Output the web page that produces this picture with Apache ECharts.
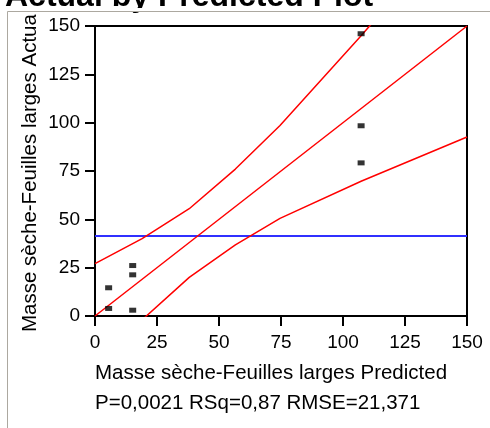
<!DOCTYPE html>
<html>
<head>
<meta charset="utf-8">
<script src="https://cdn.jsdelivr.net/npm/echarts@6/dist/echarts.min.js"></script>
<style>
html,body{margin:0;padding:0;background:#fff;}
#chart{width:490px;height:428px;}
</style>
</head>
<body>
<div id="chart"></div>
<script>
var titleText = 'Actual by Predicted Plot';
var yAxisTitle = 'Masse sèche-Feuilles larges Actual';
var xAxisTitle = 'Masse sèche-Feuilles larges Predicted';
var statsText = 'P=0,0021 RSq=0,87 RMSE=21,371';
var xTicks = [0, 25, 50, 75, 100, 125, 150];
var yTicks = [0, 25, 50, 75, 100, 125, 150];

var predicted = [107.3, 107.3, 107.3, 5.5, 5.5, 15.2, 15.2, 15.2];
var actual    = [146.0, 98.4, 79.2, 14.6, 3.9, 26.1, 21.3, 3.0];

var fitX   = [0, 150];
var fitY   = [0, 150];
var upperX = [0, 19, 38, 56.6, 74.6, 107.3, 150];
var upperY = [27.1, 40.0, 55.5, 76.0, 98.5, 145.0, 207.4];
var lowerX = [0, 19, 38, 56.6, 74.6, 107.3, 150];
var lowerY = [-27.1, -2.0, 20.0, 36.8, 50.5, 69.7, 92.6];
var meanY = 41.4;

function pairs(xs, ys){ return xs.map(function(x,i){ return [x, ys[i]]; }); }

var FONT = "'Liberation Sans', Arial, sans-serif";
var chart = echarts.init(document.getElementById('chart'), null, {renderer:'canvas'});
chart.setOption({
  animation: false,
  backgroundColor: '#fff',
  grid: {left: 95, right: 23, top: 26, bottom: 112, show: true, borderColor: '#000', borderWidth: 2, backgroundColor: 'transparent'},
  xAxis: {
    type: 'value', min: xTicks[0], max: xTicks[xTicks.length-1], interval: 25,
    axisLine: {show: true, onZero: false, lineStyle: {color: '#000', width: 2}},
    axisTick: {show: true, length: 10, lineStyle: {color: '#000', width: 2}},
    axisLabel: {color: '#000', fontSize: 19, fontFamily: FONT, margin: 17,
      formatter: function(v){ return xTicks.indexOf(v) >= 0 ? String(v) : ''; }},
    splitLine: {show: false}
  },
  yAxis: {
    type: 'value', min: yTicks[0], max: yTicks[yTicks.length-1], interval: 25,
    axisLine: {show: true, onZero: false, lineStyle: {color: '#000', width: 2}},
    axisTick: {show: true, length: 10, lineStyle: {color: '#000', width: 2}},
    axisLabel: {color: '#000', fontSize: 19, fontFamily: FONT, margin: 15,
      formatter: function(v){ return yTicks.indexOf(v) >= 0 ? String(v) : ''; }},
    splitLine: {show: false}
  },
  series: [
    {type: 'line', data: [[fitX[0], meanY], [fitX[1], meanY]], symbol: 'none', clip: true,
      lineStyle: {color: '#3030ff', width: 2}, z: 3},
    {type: 'line', data: pairs(fitX, fitY), symbol: 'none', clip: true,
      lineStyle: {color: '#ff0000', width: 1.5}, z: 4},
    {type: 'line', data: pairs(upperX, upperY), symbol: 'none', clip: true,
      lineStyle: {color: '#ff0000', width: 1.5}, z: 4},
    {type: 'line', data: pairs(lowerX, lowerY), symbol: 'none', clip: true,
      lineStyle: {color: '#ff0000', width: 1.5}, z: 4},
    {type: 'scatter', data: pairs(predicted, actual), symbol: 'rect', symbolSize: [7, 5],
      itemStyle: {color: '#000'}, z: 5}
  ],
  graphic: [
    {type: 'text', x: 5, y: -3, z: 1, style: {text: titleText, font: "bold 32px " + FONT, fill: '#000', verticalAlign: 'middle'}},
    {type: 'text', x: 30.5, y: 332, rotation: Math.PI/2, z: 1,
      style: {text: yAxisTitle, font: "20.5px " + FONT, fill: '#000', align: 'left', verticalAlign: 'middle'}},
    {type: 'rect', shape: {x: 0, y: 8, width: 490, height: 3.5}, z: 50, style: {fill: '#fff'}},
    {type: 'rect', shape: {x: 8, y: 11, width: 50, height: 3.5}, z: 50, style: {fill: '#fff'}},
    {type: 'line', shape: {x1: 7.5, y1: 11.5, x2: 490, y2: 11.5}, z: 60, style: {stroke: '#aca8a0', lineWidth: 1}},
    {type: 'line', shape: {x1: 7.5, y1: 11.5, x2: 7.5, y2: 428}, z: 60, style: {stroke: '#aca8a0', lineWidth: 1}},
    {type: 'text', x: 95, y: 373, z: 1, style: {text: xAxisTitle, font: "20.5px " + FONT, fill: '#000', verticalAlign: 'middle'}},
    {type: 'text', x: 95, y: 403, z: 1, style: {text: statsText, font: "20.5px " + FONT, fill: '#000', verticalAlign: 'middle'}}
  ]
});
</script>
</body>
</html>
